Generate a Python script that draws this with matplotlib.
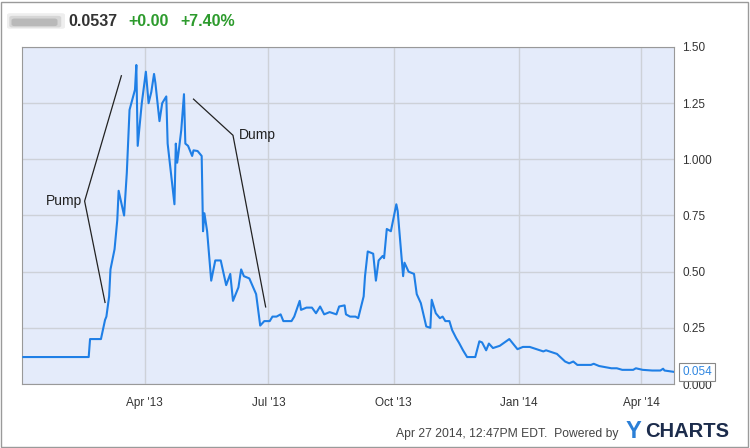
import numpy as np
import pandas as pd
import matplotlib
matplotlib.use("Agg")
import matplotlib.pyplot as plt
import matplotlib.dates as mdates
from matplotlib.patches import Rectangle, FancyBboxPatch

plt.rcParams['font.family'] = ['Liberation Sans', 'DejaVu Sans']

# price history
dates = [
    "2013-01-02", "2013-02-19", "2013-02-20", "2013-02-28", "2013-03-03", "2013-03-04",
    "2013-03-06", "2013-03-07", "2013-03-10", "2013-03-12", "2013-03-13", "2013-03-17",
    "2013-03-19", "2013-03-21", "2013-03-25", "2013-03-26", "2013-03-27", "2013-03-30",
    "2013-04-02", "2013-04-04", "2013-04-06", "2013-04-08", "2013-04-09", "2013-04-12",
    "2013-04-14", "2013-04-17", "2013-04-18", "2013-04-23", "2013-04-24", "2013-04-25",
    "2013-04-26", "2013-04-28", "2013-04-30", "2013-05-01", "2013-05-03", "2013-05-06",
    "2013-05-07", "2013-05-10", "2013-05-13", "2013-05-14", "2013-05-15", "2013-05-17",
    "2013-05-20", "2013-05-23", "2013-05-27", "2013-05-31", "2013-06-03", "2013-06-05",
    "2013-06-09", "2013-06-11", "2013-06-13", "2013-06-17", "2013-06-22", "2013-06-25",
    "2013-06-28", "2013-07-02", "2013-07-04", "2013-07-07", "2013-07-10", "2013-07-12",
    "2013-07-18", "2013-07-20", "2013-07-24", "2013-07-25", "2013-07-29", "2013-08-02",
    "2013-08-05", "2013-08-08", "2013-08-11", "2013-08-15", "2013-08-20", "2013-08-22",
    "2013-08-26", "2013-08-27", "2013-08-30", "2013-09-03", "2013-09-05", "2013-09-09",
    "2013-09-10", "2013-09-12", "2013-09-16", "2013-09-18", "2013-09-20", "2013-09-23",
    "2013-09-24", "2013-09-26", "2013-09-29", "2013-10-03", "2013-10-04", "2013-10-08",
    "2013-10-09", "2013-10-12", "2013-10-16", "2013-10-18", "2013-10-21", "2013-10-25",
    "2013-10-28", "2013-10-29", "2013-11-01", "2013-11-04", "2013-11-06", "2013-11-08",
    "2013-11-11", "2013-11-13", "2013-11-16", "2013-11-18", "2013-11-21", "2013-11-24",
    "2013-11-30", "2013-12-03", "2013-12-05", "2013-12-08", "2013-12-10", "2013-12-13",
    "2013-12-18", "2013-12-25", "2013-12-31", "2014-01-04", "2014-01-09", "2014-01-14",
    "2014-01-19", "2014-01-21", "2014-01-29", "2014-02-04", "2014-02-07", "2014-02-10",
    "2014-02-13", "2014-02-23", "2014-02-25", "2014-03-01", "2014-03-10", "2014-03-14",
    "2014-03-18", "2014-03-26", "2014-03-28", "2014-04-02", "2014-04-09", "2014-04-15",
    "2014-04-17", "2014-04-18", "2014-04-25",
]
prices = [
    0.12, 0.12, 0.20, 0.20, 0.285, 0.30,
    0.39, 0.51, 0.60, 0.73, 0.86, 0.75,
    0.94, 1.22, 1.31, 1.42, 1.06, 1.25,
    1.39, 1.25, 1.30, 1.38, 1.34, 1.17,
    1.25, 1.28, 1.07, 0.80, 1.07, 0.985,
    1.03, 1.13, 1.29, 1.07, 1.06, 1.015,
    1.04, 1.037, 1.015, 0.68, 0.76, 0.68,
    0.46, 0.55, 0.55, 0.44, 0.49, 0.37,
    0.43, 0.51, 0.48, 0.47, 0.40, 0.26,
    0.28, 0.28, 0.30, 0.30, 0.31, 0.28,
    0.28, 0.30, 0.37, 0.33, 0.34, 0.34,
    0.315, 0.345, 0.31, 0.32, 0.31, 0.345,
    0.35, 0.31, 0.30, 0.30, 0.293, 0.39,
    0.48, 0.59, 0.58, 0.46, 0.55, 0.57,
    0.56, 0.69, 0.68, 0.80, 0.77, 0.48,
    0.54, 0.50, 0.49, 0.40, 0.36, 0.256,
    0.25, 0.375, 0.315, 0.293, 0.30, 0.28,
    0.28, 0.24, 0.204, 0.184, 0.15, 0.12,
    0.12, 0.19, 0.185, 0.15, 0.18, 0.16,
    0.17, 0.20, 0.155, 0.165, 0.165, 0.155,
    0.145, 0.15, 0.134, 0.10, 0.092, 0.10,
    0.085, 0.085, 0.09, 0.08, 0.07, 0.07,
    0.063, 0.063, 0.07, 0.063, 0.06, 0.06,
    0.068, 0.06, 0.054,
]

ytick_vals = [0.0, 0.25, 0.5, 0.75, 1.0, 1.25, 1.5]
ytick_labels = ["0.000", "0.25", "0.50", "0.75", "1.000", "1.25", "1.50"]
xtick_dates = ["2013-04-01", "2013-07-01", "2013-10-01", "2014-01-01", "2014-04-01"]
xtick_labels = ["Apr '13", "Jul '13", "Oct '13", "Jan '14", "Apr '14"]

dt = pd.to_datetime(dates)

fig = plt.figure(figsize=(7.5, 4.48), dpi=100)
ax = fig.add_axes([22 / 750, (448 - 384) / 448, (674 - 22) / 750, (384 - 47) / 448])
ax.set_facecolor("#e4ebfa")

ax.plot(dt, prices, color="#1f7fe6", linewidth=1.5, zorder=3)

ax.set_xlim(pd.Timestamp("2013-01-01"), pd.Timestamp("2014-04-25"))
ax.set_ylim(0, 1.5)
ax.set_xticks(pd.to_datetime(xtick_dates))
ax.set_xticklabels(xtick_labels)
ax.set_yticks(ytick_vals)
ax.set_yticklabels(ytick_labels)
ax.yaxis.tick_right()
ax.tick_params(axis="both", length=0, labelsize=8.5, colors="#333333")
ax.tick_params(axis="y", pad=6)
ax.tick_params(axis="x", pad=9)
ax.grid(True, color="#cdd1d8", linewidth=1.0)
for s in ax.spines.values():
    s.set_color("#999999")
    s.set_linewidth(0.8)

# pump / dump annotation lines
pump_v = (pd.Timestamp("2013-02-16"), 0.814)
ax.plot([pd.Timestamp("2013-03-15"), pump_v[0], pd.Timestamp("2013-03-03")],
        [1.372, pump_v[1], 0.363], color="#222222", linewidth=0.9, zorder=4)
ax.text(pd.Timestamp("2013-02-14"), 0.814, "Pump", ha="right", va="center",
        fontsize=10, color="#222222")
dump_v = (pd.Timestamp("2013-06-05"), 1.107)
ax.plot([pd.Timestamp("2013-05-07"), dump_v[0], pd.Timestamp("2013-06-29")],
        [1.268, dump_v[1], 0.343], color="#222222", linewidth=0.9, zorder=4)
ax.text(pd.Timestamp("2013-06-09"), 1.107, "Dump", ha="left", va="center",
        fontsize=10, color="#222222")

# last value tag
ax.annotate(f"{prices[-1]:.3f}", xy=(1.0, prices[-1]), xycoords=("axes fraction", "data"),
            xytext=(6, 0), textcoords="offset points", ha="left", va="center",
            fontsize=8.5, color="#2f86e0", zorder=10, annotation_clip=False,
            bbox=dict(boxstyle="square,pad=0.25", fc="white", ec="#888888", lw=0.8))

# header (blurred ticker name)
for i, a in enumerate([0.15, 0.25, 0.4]):
    fig.patches.append(FancyBboxPatch((10 / 750 + i * 0.003, 1 - 27 / 448 + i * 0.003),
                                      (52 - i * 6) / 750, (12 - i * 4) / 448,
                                      boxstyle="round,pad=0.004", transform=fig.transFigure,
                                      fc="#8f8f8f", ec="none", alpha=a))
fig.text(68 / 750, 1 - 21 / 448, "0.0537", fontsize=11.5, fontweight="bold",
         color="#333333", va="center", ha="left")
fig.text(128 / 750, 1 - 21 / 448, "+0.00", fontsize=11.5, fontweight="bold",
         color="#2d9b2d", va="center", ha="left")
fig.text(180 / 750, 1 - 21 / 448, "+7.40%", fontsize=11.5, fontweight="bold",
         color="#2d9b2d", va="center", ha="left")

# footer
fig.text(618 / 750, 1 - 434 / 448, "Apr 27 2014, 12:47PM EDT.  Powered by", fontsize=8.7,
         color="#444444", ha="right", va="center")
fig.text(626 / 750, 1 - 431 / 448, "Y", fontsize=17, fontweight="bold",
         color="#2b7fd6", ha="left", va="center")
fig.text(645 / 750, 1 - 431 / 448, "CHARTS", fontsize=14.5, fontweight="bold",
         color="#1c2c4c", ha="left", va="center")

# outer frame
fig.patches.append(Rectangle((1 / 750, 1 / 448), 747 / 750, 445 / 448, transform=fig.transFigure,
                             fill=False, ec="#9a9a9a", lw=1.0))

fig.savefig("out.png", dpi=100)
